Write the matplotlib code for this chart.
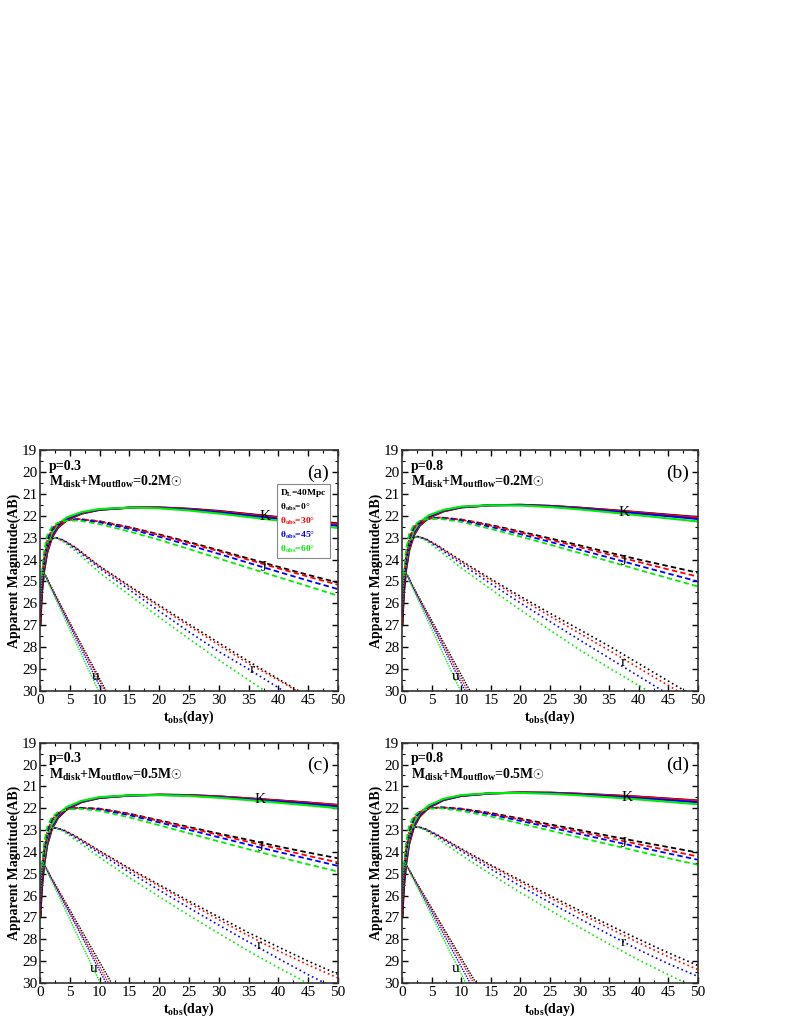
import matplotlib
matplotlib.use("Agg")
import matplotlib.pyplot as plt
from matplotlib.lines import Line2D
from matplotlib.ticker import MultipleLocator

plt.rcParams['font.family'] = ['Liberation Serif', 'DejaVu Serif']
plt.rcParams['mathtext.fontset'] = 'custom'
plt.rcParams['mathtext.rm'] = 'Liberation Serif'
plt.rcParams['mathtext.bf'] = 'Liberation Serif:bold'
plt.rcParams['mathtext.it'] = 'Liberation Serif:italic'

# ---------------- data ----------------
angles = ['0', '30', '45', '60']
colors = ['black', 'red', 'blue', '#00ee00']

t_K = [0.05, 0.3, 0.7, 1.2, 2, 3, 4.5, 7, 10, 15, 20, 25, 30, 35, 40, 45, 50]
t_J = [0.05, 0.3, 0.7, 1.2, 2, 3, 4.5, 6.5, 10, 15, 20, 25, 30, 35, 40, 45, 50]
t_r = [0.05, 0.3, 0.7, 1.2, 2, 2.7, 4, 6, 10, 15, 20, 25, 30, 35, 40, 45, 50]
t_u = [0.05, 0.2, 0.5, 1, 2, 4, 6, 8, 10, 12, 14]

# panel (a): p=0.3, M=0.2
K_a = [[27.0, 25.6, 24.5, 23.7, 23.0, 22.55, 22.2, 21.9, 21.73, 21.63, 21.62, 21.68, 21.78, 21.92, 22.06, 22.2, 22.35],
       [26.9, 25.5, 24.45, 23.65, 22.97, 22.52, 22.18, 21.89, 21.72, 21.63, 21.62, 21.69, 21.8, 21.94, 22.08, 22.23, 22.38],
       [26.6, 25.3, 24.3, 23.5, 22.88, 22.45, 22.13, 21.86, 21.71, 21.63, 21.64, 21.72, 21.84, 21.99, 22.14, 22.3, 22.46],
       [26.2, 25.0, 24.1, 23.35, 22.78, 22.38, 22.07, 21.83, 21.69, 21.63, 21.66, 21.76, 21.9, 22.06, 22.22, 22.39, 22.56]]
J_a = [[27.0, 25.3, 24.0, 23.2, 22.65, 22.38, 22.2, 22.15, 22.25, 22.52, 22.85, 23.2, 23.57, 23.95, 24.33, 24.7, 25.05],
       [26.9, 25.2, 23.95, 23.15, 22.62, 22.36, 22.2, 22.15, 22.26, 22.54, 22.88, 23.24, 23.62, 24.01, 24.4, 24.78, 25.15],
       [26.6, 25.0, 23.8, 23.05, 22.57, 22.34, 22.2, 22.17, 22.3, 22.6, 22.96, 23.34, 23.74, 24.15, 24.56, 24.96, 25.35],
       [26.2, 24.7, 23.6, 22.9, 22.5, 22.32, 22.22, 22.22, 22.38, 22.72, 23.1, 23.52, 23.95, 24.38, 24.8, 25.22, 25.65]]
r_a = [[27.0, 25.2, 24.0, 23.4, 23.05, 23.0, 23.12, 23.45, 24.3, 25.2, 26.08, 26.95, 27.8, 28.65, 29.45, 30.25, 31.0],
       [26.9, 25.1, 23.95, 23.37, 23.04, 23.0, 23.13, 23.47, 24.32, 25.25, 26.15, 27.03, 27.9, 28.75, 29.5, 30.3, 31.1],
       [26.6, 24.95, 23.85, 23.32, 23.02, 23.0, 23.15, 23.52, 24.4, 25.38, 26.35, 27.3, 28.2, 29.0, 29.85, 30.7, 31.5],
       [26.2, 24.7, 23.7, 23.25, 23.0, 23.0, 23.2, 23.62, 24.6, 25.62, 26.63, 27.62, 28.58, 29.5, 30.4, 31.3, 32.2]]
u_a = [[27.0, 25.4, 24.55, 24.75, 25.3, 26.35, 27.4, 28.42, 29.44, 30.46, 31.5],
       [26.9, 25.3, 24.55, 24.77, 25.33, 26.4, 27.45, 28.5, 29.55, 30.6, 31.6],
       [26.6, 25.2, 24.55, 24.8, 25.37, 26.47, 27.57, 28.67, 29.77, 30.87, 31.9],
       [26.2, 25.0, 24.55, 24.82, 25.42, 26.6, 27.77, 28.94, 30.1, 31.27, 32.4]]

# panel (b): p=0.8, M=0.2
K_b = [[27.0, 25.6, 24.45, 23.6, 22.9, 22.45, 22.1, 21.8, 21.62, 21.52, 21.5, 21.55, 21.63, 21.73, 21.84, 21.95, 22.06],
       [26.9, 25.5, 24.4, 23.55, 22.87, 22.42, 22.08, 21.79, 21.61, 21.52, 21.5, 21.55, 21.64, 21.74, 21.85, 21.97, 22.08],
       [26.6, 25.3, 24.25, 23.42, 22.78, 22.36, 22.03, 21.76, 21.6, 21.52, 21.51, 21.57, 21.67, 21.78, 21.9, 22.02, 22.15],
       [26.2, 25.0, 24.05, 23.27, 22.68, 22.29, 21.98, 21.73, 21.58, 21.52, 21.53, 21.6, 21.71, 21.84, 21.98, 22.12, 22.26]]
J_b = [[27.0, 25.3, 23.95, 23.1, 22.55, 22.3, 22.14, 22.08, 22.17, 22.42, 22.72, 23.03, 23.35, 23.68, 24.0, 24.3, 24.6],
       [26.9, 25.2, 23.9, 23.05, 22.52, 22.28, 22.13, 22.08, 22.18, 22.45, 22.76, 23.09, 23.43, 23.77, 24.11, 24.45, 24.78],
       [26.6, 25.0, 23.75, 22.95, 22.47, 22.26, 22.13, 22.1, 22.22, 22.51, 22.84, 23.19, 23.55, 23.91, 24.28, 24.64, 25.0],
       [26.2, 24.7, 23.55, 22.82, 22.42, 22.24, 22.14, 22.14, 22.28, 22.6, 22.95, 23.32, 23.7, 24.08, 24.47, 24.85, 25.23]]
r_b = [[27.0, 25.2, 23.95, 23.35, 23.0, 22.95, 23.05, 23.35, 24.05, 24.88, 25.68, 26.45, 27.2, 27.95, 28.75, 29.55, 30.35],
       [26.9, 25.1, 23.9, 23.32, 22.99, 22.95, 23.06, 23.37, 24.1, 24.95, 25.78, 26.58, 27.37, 28.15, 28.95, 29.75, 30.55],
       [26.6, 24.95, 23.8, 23.27, 22.97, 22.95, 23.08, 23.42, 24.2, 25.1, 25.98, 26.83, 27.67, 28.5, 29.33, 30.15, 31.0],
       [26.2, 24.7, 23.65, 23.2, 22.95, 22.95, 23.12, 23.52, 24.38, 25.35, 26.3, 27.22, 28.12, 28.95, 29.75, 30.55, 31.4]]
u_b = [[27.0, 25.4, 24.55, 24.75, 25.29, 26.28, 27.27, 28.27, 29.26, 30.25, 31.24],
       [26.9, 25.3, 24.55, 24.76, 25.32, 26.35, 27.38, 28.4, 29.43, 30.46, 31.5],
       [26.6, 25.2, 24.55, 24.78, 25.35, 26.42, 27.49, 28.56, 29.63, 30.7, 31.76],
       [26.2, 25.0, 24.55, 24.82, 25.42, 26.58, 27.74, 28.9, 30.06, 31.2, 32.4]]

# panel (c): p=0.3, M=0.5
K_c = [[27.0, 25.7, 24.6, 23.7, 22.95, 22.45, 22.05, 21.72, 21.53, 21.42, 21.38, 21.4, 21.46, 21.55, 21.64, 21.74, 21.85],
       [26.9, 25.6, 24.55, 23.65, 22.92, 22.42, 22.03, 21.71, 21.52, 21.42, 21.38, 21.4, 21.46, 21.55, 21.65, 21.75, 21.86],
       [26.6, 25.4, 24.4, 23.52, 22.83, 22.36, 21.99, 21.69, 21.51, 21.42, 21.39, 21.42, 21.49, 21.59, 21.69, 21.8, 21.92],
       [26.2, 25.1, 24.2, 23.37, 22.73, 22.29, 21.94, 21.66, 21.49, 21.41, 21.4, 21.44, 21.52, 21.63, 21.75, 21.87, 22.0]]
J_c = [[27.0, 25.3, 24.0, 23.15, 22.55, 22.25, 22.06, 21.98, 22.02, 22.25, 22.55, 22.86, 23.16, 23.45, 23.75, 24.03, 24.29],
       [26.9, 25.2, 23.95, 23.1, 22.52, 22.23, 22.05, 21.98, 22.03, 22.27, 22.58, 22.9, 23.22, 23.54, 23.86, 24.18, 24.48],
       [26.6, 25.0, 23.8, 23.0, 22.47, 22.21, 22.05, 21.99, 22.06, 22.32, 22.65, 22.99, 23.33, 23.67, 24.0, 24.32, 24.64],
       [26.2, 24.7, 23.6, 22.85, 22.4, 22.19, 22.06, 22.02, 22.12, 22.42, 22.78, 23.15, 23.52, 23.88, 24.23, 24.57, 24.9]]
r_c = [[27.0, 25.2, 23.95, 23.32, 22.95, 22.9, 23.0, 23.28, 23.95, 24.75, 25.5, 26.25, 26.98, 27.7, 28.35, 29.0, 29.6],
       [26.9, 25.1, 23.9, 23.3, 22.94, 22.9, 23.01, 23.3, 23.98, 24.8, 25.57, 26.34, 27.1, 27.84, 28.53, 29.17, 29.77],
       [26.6, 24.95, 23.8, 23.25, 22.92, 22.9, 23.03, 23.35, 24.07, 24.93, 25.75, 26.56, 27.35, 28.12, 28.88, 29.62, 30.3],
       [26.2, 24.7, 23.65, 23.18, 22.9, 22.9, 23.07, 23.45, 24.25, 25.18, 26.05, 26.9, 27.73, 28.54, 29.3, 30.02, 30.7]]
u_c = [[27.0, 25.4, 24.5, 24.72, 25.22, 26.17, 27.13, 28.09, 29.04, 30.0, 30.96],
       [26.9, 25.3, 24.5, 24.73, 25.25, 26.25, 27.25, 28.25, 29.25, 30.25, 31.25],
       [26.6, 25.2, 24.5, 24.75, 25.28, 26.32, 27.35, 28.39, 29.43, 30.47, 31.5],
       [26.2, 25.0, 24.5, 24.78, 25.36, 26.5, 27.65, 28.8, 29.94, 31.09, 32.2]]

# panel (d): p=0.8, M=0.5
K_d = [[27.0, 25.7, 24.55, 23.65, 22.88, 22.38, 21.98, 21.63, 21.44, 21.32, 21.28, 21.29, 21.34, 21.4, 21.47, 21.56, 21.65],
       [26.9, 25.6, 24.5, 23.6, 22.85, 22.35, 21.96, 21.62, 21.43, 21.32, 21.28, 21.29, 21.34, 21.41, 21.48, 21.57, 21.66],
       [26.6, 25.4, 24.35, 23.47, 22.76, 22.29, 21.92, 21.6, 21.42, 21.32, 21.29, 21.31, 21.37, 21.45, 21.54, 21.63, 21.73],
       [26.2, 25.1, 24.15, 23.32, 22.66, 22.22, 21.87, 21.57, 21.4, 21.31, 21.3, 21.34, 21.41, 21.5, 21.6, 21.71, 21.82]]
J_d = [[27.0, 25.3, 23.95, 23.1, 22.5, 22.2, 22.02, 21.96, 22.02, 22.22, 22.47, 22.74, 23.0, 23.27, 23.53, 23.78, 24.03],
       [26.9, 25.2, 23.9, 23.05, 22.47, 22.18, 22.01, 21.96, 22.03, 22.25, 22.52, 22.8, 23.08, 23.37, 23.65, 23.93, 24.21],
       [26.6, 25.0, 23.75, 22.95, 22.42, 22.16, 22.01, 21.97, 22.06, 22.29, 22.58, 22.88, 23.18, 23.48, 23.78, 24.07, 24.36],
       [26.2, 24.7, 23.55, 22.8, 22.35, 22.14, 22.02, 22.0, 22.12, 22.38, 22.7, 23.02, 23.34, 23.66, 23.98, 24.29, 24.59]]
r_d = [[27.0, 25.2, 23.9, 23.3, 22.9, 22.85, 22.95, 23.22, 23.85, 24.6, 25.3, 26.0, 26.68, 27.35, 28.0, 28.62, 29.2],
       [26.9, 25.1, 23.85, 23.27, 22.89, 22.85, 22.96, 23.24, 23.88, 24.65, 25.38, 26.1, 26.8, 27.49, 28.16, 28.8, 29.39],
       [26.6, 24.95, 23.75, 23.22, 22.87, 22.85, 22.98, 23.28, 23.96, 24.78, 25.56, 26.32, 27.06, 27.78, 28.48, 29.12, 29.7],
       [26.2, 24.7, 23.6, 23.15, 22.85, 22.85, 23.02, 23.38, 24.14, 25.02, 25.86, 26.67, 27.46, 28.22, 28.95, 29.62, 30.27]]
u_d = [[27.0, 25.4, 24.5, 24.71, 25.19, 26.1, 27.02, 27.94, 28.85, 29.77, 30.69],
       [26.9, 25.3, 24.5, 24.72, 25.2, 26.16, 27.11, 28.06, 29.0, 29.95, 30.9],
       [26.6, 25.2, 24.5, 24.73, 25.25, 26.25, 27.25, 28.25, 29.25, 30.25, 31.25],
       [26.2, 25.0, 24.5, 24.77, 25.3, 26.37, 27.44, 28.51, 29.58, 30.65, 31.7]]

panel_tags = ['(a)', '(b)', '(c)', '(d)']
p_values = ['0.3', '0.8', '0.3', '0.8']
masses = ['0.2', '0.2', '0.5', '0.5']
band_names = ['K', 'J', 'r', 'u']
label_pos = [
    [(37.7, 22.05), (37.5, 24.35), (35.6, 29.0), (9.3, 29.35)],
    [(37.5, 21.85), (37.5, 24.1), (37.3, 28.7), (9.0, 29.35)],
    [(37.0, 21.6), (37.0, 23.8), (36.7, 28.3), (9.0, 29.35)],
    [(38.0, 21.5), (37.5, 23.6), (37.3, 28.15), (9.0, 29.35)],
]

panels = [(K_a, J_a, r_a, u_a), (K_b, J_b, r_b, u_b),
          (K_c, J_c, r_c, u_c), (K_d, J_d, r_d, u_d)]

# ---------------- figure ----------------
W, H = 789, 1021
fig = plt.figure(figsize=(W / 100, H / 100), dpi=100)
rects = [[0.0507, 0.3232, 0.3777, 0.2360],
         [0.5095, 0.3232, 0.3752, 0.2360],
         [0.0507, 0.0372, 0.3777, 0.2354],
         [0.5095, 0.0372, 0.3752, 0.2354]]

styles = {
    'K': dict(linestyle='-', linewidth=1.5),
    'J': dict(linestyle=(0, (3, 1.8)), linewidth=1.3),
    'r': dict(linestyle=(0, (1, 1.8)), linewidth=1.2),
    'u': dict(linestyle=(0, (1, 0.9)), linewidth=1.0),
}
times = {'K': t_K, 'J': t_J, 'r': t_r, 'u': t_u}

for i, (rect, data) in enumerate(zip(rects, panels)):
    ax = fig.add_axes(rect)
    for band, curves in zip(band_names, data):
        for col, y in zip(colors, curves):
            ax.plot(times[band], y, color=col, **styles[band])
    ax.set_xlim(0, 50)
    ax.set_ylim(30, 19)
    ax.xaxis.set_major_locator(MultipleLocator(5))
    ax.xaxis.set_minor_locator(MultipleLocator(2.5))
    ax.yaxis.set_major_locator(MultipleLocator(1))
    ax.yaxis.set_minor_locator(MultipleLocator(0.5))
    ax.tick_params(which='both', direction='in', top=True, right=True)
    ax.tick_params(which='major', length=4, width=1.0, labelsize=11, pad=2)
    ax.tick_params(which='minor', length=2, width=0.8)
    for s in ax.spines.values():
        s.set_linewidth(1.2)
        s.set_color('#333333')
    ax.set_ylabel('Apparent Magnitude(AB)', fontsize=10, fontweight='bold', labelpad=1)
    ax.set_xlabel(r'$\mathbf{t_{obs}}$(day)', fontsize=10, fontweight='bold', labelpad=1)

    ax.text(0.03, 0.933, 'p=' + p_values[i], transform=ax.transAxes,
            fontsize=10, fontweight='bold', va='center', ha='left')
    ax.text(0.03, 0.866, r'$\mathbf{M_{disk}}$+$\mathbf{M_{outflow}}$=' + masses[i] + r'M$\odot$',
            transform=ax.transAxes, fontsize=10, fontweight='bold', va='center', ha='left')
    ax.text(0.97, 0.94, panel_tags[i], transform=ax.transAxes,
            fontsize=14, va='top', ha='right')
    for name, (x, y) in zip(band_names, label_pos[i]):
        ax.text(x, y, name, fontsize=11, ha='center', va='center')

    if i == 0:
        handles = [Line2D([], [], linestyle='none')] * 5
        labels = [r'$\mathbf{D_L}$=40Mpc'] + [r'$\mathbf{\theta_{obs}}$=' + a + '°' for a in angles]
        leg = ax.legend(handles, labels, loc='upper right', bbox_to_anchor=(0.972, 0.858),
                        handlelength=0, handletextpad=0, labelspacing=0.3,
                        borderpad=0.3, borderaxespad=0, fancybox=False, framealpha=1,
                        edgecolor='#888888', labelcolor=['black'] + colors,
                        prop={'weight': 'bold', 'size': 6.8})
        leg.get_frame().set_linewidth(0.8)

fig.savefig('out.png', dpi=100)
